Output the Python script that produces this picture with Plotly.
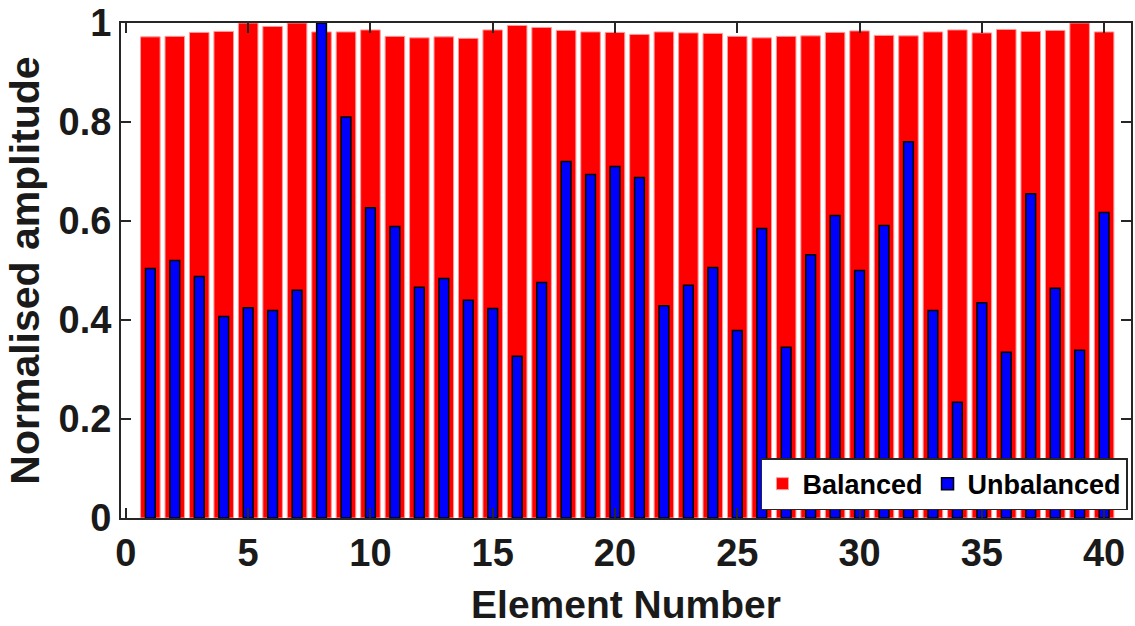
import plotly.graph_objects as go

elements = list(range(1, 41))
balanced = [0.972, 0.973, 0.981, 0.983, 1.0, 0.993, 1.0, 0.982, 0.982, 0.986,
            0.973, 0.970, 0.972, 0.969, 0.986, 0.995, 0.991, 0.985, 0.982, 0.981,
            0.977, 0.982, 0.980, 0.979, 0.973, 0.970, 0.973, 0.974, 0.981, 0.984,
            0.975, 0.974, 0.982, 0.986, 0.980, 0.987, 0.983, 0.985, 1.0, 0.982]
unbalanced = [0.504, 0.520, 0.488, 0.407, 0.425, 0.419, 0.460, 1.0, 0.810, 0.627,
              0.589, 0.466, 0.484, 0.440, 0.423, 0.327, 0.476, 0.720, 0.694, 0.710,
              0.688, 0.429, 0.470, 0.506, 0.379, 0.585, 0.345, 0.532, 0.611, 0.500,
              0.591, 0.760, 0.419, 0.234, 0.435, 0.335, 0.655, 0.464, 0.339, 0.617]
x_ticks = [0, 5, 10, 15, 20, 25, 30, 35, 40]
y_ticks = [0, 0.2, 0.4, 0.6, 0.8, 1]
y_tick_labels = ["0", "0.2", "0.4", "0.6", "0.8", "1"]

FONT = "Liberation Sans, Arial, sans-serif"
AX = "#262626"

fig = go.Figure()
fig.add_trace(go.Bar(x=elements, y=balanced, name="Balanced", width=0.8,
                     marker=dict(color="#ff0000", line=dict(color="#ff9a9a", width=1))))
fig.add_trace(go.Bar(x=elements, y=unbalanced, name="Unbalanced", width=0.4,
                     marker=dict(color="#0000ff", line=dict(color="#000000", width=1.5))))

fig.update_layout(
    width=1135, height=626,
    margin=dict(l=121, r=2, t=22, b=108),
    barmode="overlay",
    plot_bgcolor="white", paper_bgcolor="white",
    font=dict(family=FONT, color="#1a1a1a"),
    legend=dict(orientation="h", x=0.997, y=0.016, xanchor="right", yanchor="bottom",
                bgcolor="white", bordercolor="#262626", borderwidth=1.5,
                font=dict(family=FONT, size=27, color="black", weight="bold"),
                itemwidth=30, tracegroupgap=0, traceorder="normal"),
    xaxis=dict(range=[-0.2, 41.1], tickvals=x_ticks, ticks="inside", ticklen=10, tickwidth=2,
               tickcolor=AX, showline=True, linecolor=AX, linewidth=2, mirror="ticks",
               showgrid=False, zeroline=False,
               tickfont=dict(family=FONT, size=38, weight="bold", color="#1a1a1a"),
               title=dict(text="Element Number", standoff=18,
                          font=dict(family=FONT, size=39, weight="bold", color="#1a1a1a"))),
    yaxis=dict(range=[0, 1], tickvals=y_ticks, ticktext=y_tick_labels, ticks="inside",
               ticklen=10, tickwidth=2, tickcolor=AX, showline=True, linecolor=AX, linewidth=2,
               mirror="ticks", showgrid=False, zeroline=False,
               tickfont=dict(family=FONT, size=38, weight="bold", color="#1a1a1a"),
               title=dict(text="Normalised amplitude", standoff=6,
                          font=dict(family=FONT, size=41, weight="bold", color="#1a1a1a"))),
)

fig.write_html("out.html")
